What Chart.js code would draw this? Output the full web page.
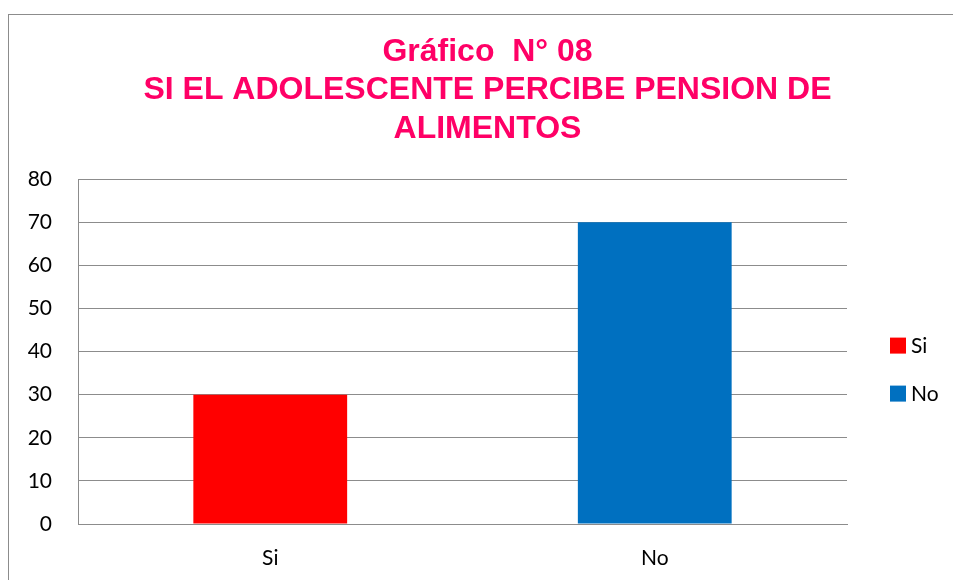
<!DOCTYPE html>
<html>
<head>
<meta charset="utf-8">
<script src="https://cdn.jsdelivr.net/npm/chart.js@4"></script>
<style>
  html, body { margin: 0; padding: 0; background: #fff; overflow: hidden; }
  #wrap { position: relative; width: 953px; height: 580px; }
  #frame { position: absolute; left: 8px; top: 14px; width: 1000px; height: 700px; border: 1px solid #8c8c8c; box-sizing: border-box; pointer-events: none; }
  canvas { position: absolute; left: 0; top: 0; }
</style>
</head>
<body>
<div id="wrap">
  <div id="frame"></div>
  <canvas id="c" width="953" height="580"></canvas>
</div>
<script>
const titleLines = ["Gráfico  N° 08", "SI EL ADOLESCENTE PERCIBE PENSION DE", "ALIMENTOS"];
const categories = ["Si", "No"];
const values = [30, 70];
const barColors = ["#FF0000", "#0070C0"];
const yTicks = [0, 10, 20, 30, 40, 50, 60, 70, 80];

const tickFont = { family: "Lato, 'Open Sans', sans-serif", size: 21 };

// Legend drawn at the right of the plot area (Excel style)
const sideLegend = {
  id: "sideLegend",
  afterDraw(chart) {
    const ctx = chart.ctx;
    const area = chart.chartArea;
    const mid = (area.top + area.bottom) / 2 + 18;
    const step = 48;
    ctx.save();
    ctx.font = `${tickFont.size}px ${tickFont.family}`;
    ctx.textBaseline = "middle";
    ctx.textAlign = "left";
    categories.forEach((c, i) => {
      const cy = mid + (i - (categories.length - 1) / 2) * step;
      const bx = area.right + 43;
      ctx.fillStyle = barColors[i];
      ctx.fillRect(bx, cy - 8, 16, 16);
      ctx.fillStyle = "#000";
      ctx.fillText(c, bx + 21, cy + 1);
    });
    ctx.restore();
  }
};

new Chart(document.getElementById("c"), {
  type: "bar",
  data: {
    labels: categories,
    datasets: [{
      label: "Valores",
      data: values,
      backgroundColor: barColors,
      borderWidth: 0,
      barPercentage: 0.4,
      categoryPercentage: 1.0
    }]
  },
  plugins: [sideLegend],
  options: {
    responsive: false,
    animation: false,
    layout: { padding: { left: 22, right: 0, top: 0, bottom: 0 } },
    plugins: {
      tooltip: { enabled: false },
      legend: { display: false },
      title: {
        display: true,
        text: titleLines,
        color: "#FF0066",
        font: { family: "'Liberation Sans', Arial, sans-serif", size: 32, weight: "bold", lineHeight: 1.2 },
        padding: { top: 33, bottom: 31 }
      }
    },
    scales: {
      x: {
        grid: { display: false, drawTicks: false },
        border: { display: true, color: "#8c8c8c", width: 1 },
        ticks: { color: "#000", font: tickFont, padding: 22 },
        afterFit: (s) => { s.height = 56; }
      },
      y: {
        min: 0,
        max: 80,
        afterBuildTicks: (s) => { s.ticks = yTicks.map(v => ({ value: v })); },
        grid: { color: "#8c8c8c", lineWidth: 1, drawTicks: false },
        border: { display: true, color: "#8c8c8c", width: 1 },
        ticks: { color: "#000", font: tickFont, padding: 26 },
        afterFit: (s) => { s.width = 56; }
      },
      legendSpace: {
        type: "linear",
        position: "right",
        min: 0,
        max: 80,
        grid: { display: false, drawTicks: false },
        border: { display: false },
        ticks: { display: false },
        afterFit: (s) => { s.width = 106; }
      }
    }
  }
});
</script>
</body>
</html>
